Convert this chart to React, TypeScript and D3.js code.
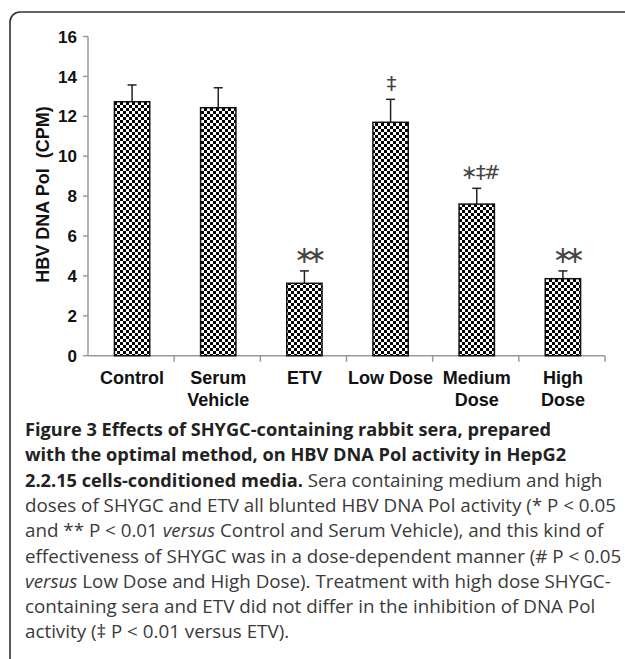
import React from "react";
import * as d3 from "d3";

// Treatment groups (label lines as printed under each bar)
const categories = ["Control", "Serum Vehicle", "ETV", "Low Dose", "Medium Dose", "High Dose"];
const categoryLines = [["Control"], ["Serum", "Vehicle"], ["ETV"], ["Low Dose"], ["Medium", "Dose"], ["High", "Dose"]];
// HBV DNA Pol activity (CPM): mean and error
const means = [12.73, 12.43, 3.63, 11.7, 7.6, 3.86];
const errors = [0.84, 1.0, 0.62, 1.15, 0.79, 0.39];
// Significance marks above bars
const marks = ["", "", "∗∗", "‡", "∗‡#", "∗∗"];
const yTicks = [0, 2, 4, 6, 8, 10, 12, 14, 16];

const W = 625;
const H = 659;
const axisColor = "#9a9a9a";
const chartFont = "'Liberation Sans', Arial, sans-serif";
const captionFont = "'Open Sans', 'Noto Sans', sans-serif";

type Seg = { t: string; b?: boolean; i?: boolean };
const captionLines: Seg[][] = [
  [{ t: "Figure 3 Effects of SHYGC-containing rabbit sera, prepared", b: true }],
  [{ t: "with the optimal method, on HBV DNA Pol activity in HepG2", b: true }],
  [{ t: "2.2.15 cells-conditioned media.", b: true }, { t: " Sera containing medium and high" }],
  [{ t: "doses of SHYGC and ETV all blunted HBV DNA Pol activity (* P < 0.05" }],
  [{ t: "and ** P < 0.01 " }, { t: "versus", i: true }, { t: " Control and Serum Vehicle), and this kind of" }],
  [{ t: "effectiveness of SHYGC was in a dose-dependent manner (# P < 0.05" }],
  [{ t: "versus", i: true }, { t: " Low Dose and High Dose). Treatment with high dose SHYGC-" }],
  [{ t: "containing sera and ETV did not differ in the inhibition of DNA Pol" }],
  [{ t: "activity (‡ P < 0.01 versus ETV)." }],
];

export default function App() {
  const x = d3.scaleBand<string>().domain(categories).range([88, 605]).padding(0);
  const y = d3.scaleLinear().domain([0, 16]).range([355.7, 36.5]);
  const bw = x.bandwidth() * 0.41;
  const y0 = y(0);

  return (
    <svg
      width={W}
      height={H}
      style={{ position: "absolute", left: 0, top: 0, background: "#fff" }}
    >
      <defs>
        <pattern id="checker" width={6} height={6} patternUnits="userSpaceOnUse">
          <rect width={6} height={6} fill="#fff" />
          <rect x={0} y={0} width={3} height={3} fill="#000" />
          <rect x={3} y={3} width={3} height={3} fill="#000" />
        </pattern>
      </defs>
      <rect x={0} y={0} width={W} height={H} fill="#fff" />
      {/* panel frame */}
      <rect x={10} y={12} width={660} height={700} rx={10} fill="none" stroke="#333" strokeWidth={1.6} />

      {/* y axis */}
      <line x1={88} x2={88} y1={y(16)} y2={y0} stroke={axisColor} strokeWidth={1.5} />
      {yTicks.map((t) => (
        <g key={t}>
          <line x1={83} x2={88} y1={y(t)} y2={y(t)} stroke={axisColor} strokeWidth={1.5} />
          <text
            x={77}
            y={y(t)}
            dy="0.36em"
            textAnchor="end"
            fontFamily={chartFont}
            fontWeight="bold"
            fontSize={17}
            fill="#111"
          >
            {t}
          </text>
        </g>
      ))}
      <text
        transform={`translate(49,194.5) rotate(-90)`}
        textAnchor="middle"
        fontFamily={chartFont}
        fontWeight="bold"
        fontSize={18}
        fill="#111"
        style={{ whiteSpace: "pre" }}
      >
        {"HBV DNA Pol  (CPM)"}
      </text>

      {/* x axis */}
      <line x1={88} x2={605} y1={y0} y2={y0} stroke={axisColor} strokeWidth={1.5} />
      {categories.map((c) => (
        <line key={c} x1={(x(c) as number) + x.bandwidth()} x2={(x(c) as number) + x.bandwidth()} y1={y0} y2={y0 + 6} stroke={axisColor} strokeWidth={1.5} />
      ))}

      {/* bars, error bars, marks */}
      {categories.map((c, i) => {
        const cx = (x(c) as number) + x.bandwidth() / 2 + 1;
        const top = y(means[i]);
        const eTop = y(means[i] + errors[i]);
        const m = marks[i];
        const pair = m === "∗∗";
        return (
          <g key={c}>
            <rect
              x={cx - bw / 2}
              y={top}
              width={bw}
              height={y0 - top}
              fill="url(#checker)"
              stroke="#111"
              strokeWidth={1.5}
            />
            <line x1={cx} x2={cx} y1={top} y2={eTop} stroke="#222" strokeWidth={1.5} />
            <line x1={cx - 4.5} x2={cx + 4.5} y1={eTop} y2={eTop} stroke="#222" strokeWidth={1.5} />
            {m && (
              <text
                x={cx + (pair ? 2 : m.length > 2 ? 3 : 0)}
                y={eTop - 16}
                dy="0.35em"
                textAnchor="middle"
                fontFamily="'DejaVu Sans', sans-serif"
                fontSize={pair ? 24 : 20}
                letterSpacing={pair ? -8 : -2}
                fill="#444"
              >
                {m}
              </text>
            )}
            {categoryLines[i].map((ln, k) => (
              <text
                key={k}
                x={cx}
                y={384 + k * 21.5}
                textAnchor="middle"
                fontFamily={chartFont}
                fontWeight="bold"
                fontSize={18}
                fill="#111"
              >
                {ln}
              </text>
            ))}
          </g>
        );
      })}

      {/* caption */}
      {captionLines.map((segs, li) => (
        <text key={li} x={25} y={436 + li * 25.3} fontFamily={captionFont} fontSize={18.8} fill="#333" style={{ whiteSpace: "pre" }}>
          {segs.map((s, k) => (
            <tspan
              key={k}
              fontWeight={s.b ? "bold" : "normal"}
              fontStyle={s.i ? "italic" : "normal"}
              fontSize={s.b ? 18.2 : 18.8}
              fill={s.b ? "#222" : "#3a3a3a"}
            >
              {s.t}
            </tspan>
          ))}
        </text>
      ))}
    </svg>
  );
}
